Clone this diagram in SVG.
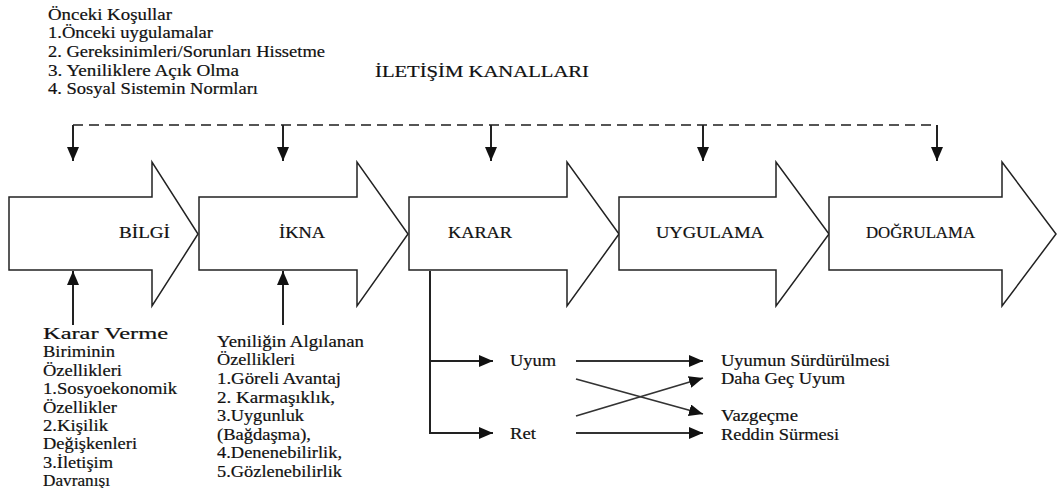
<svg xmlns="http://www.w3.org/2000/svg" width="1057" height="488" viewBox="0 0 1057 488">
  <style>
    .tx { font-family: 'Liberation Serif', 'Times New Roman', serif; font-size: 16.5px; fill: #111; stroke: #111; stroke-width: 0.2; }
    .stage { fill: #fff; stroke: #222; stroke-width: 1.5; stroke-linejoin: miter; }
    .link { fill: none; stroke: #222; stroke-width: 2; }
    .thin { fill: none; stroke: #333; stroke-width: 1.8; }
    .dash { fill: none; stroke: #555; stroke-width: 2; stroke-dasharray: 10 6; }
  </style>
  <defs>
    <marker id="head" viewBox="0 0 14 12" refX="14" refY="6" markerWidth="14" markerHeight="12" markerUnits="userSpaceOnUse" orient="auto">
      <path d="M0,0 L14,6 L0,12 z" fill="#111"/>
    </marker>
  </defs>

  <!-- Prior conditions -->
  <g id="prior-conditions">
    <text class="tx" x="48" y="20" textLength="124" lengthAdjust="spacingAndGlyphs">Önceki Koşullar</text>
    <text class="tx" x="48" y="38" textLength="165" lengthAdjust="spacingAndGlyphs">1.Önceki uygulamalar</text>
    <text class="tx" x="48" y="57" textLength="277" lengthAdjust="spacingAndGlyphs">2. Gereksinimleri/Sorunları Hissetme</text>
    <text class="tx" x="48" y="76" textLength="191" lengthAdjust="spacingAndGlyphs">3. Yeniliklere Açık Olma</text>
    <text class="tx" x="48" y="94" textLength="210" lengthAdjust="spacingAndGlyphs">4. Sosyal Sistemin Normları</text>
  </g>

  <g id="channels-title">
    <text class="tx" x="375" y="77" textLength="214" lengthAdjust="spacingAndGlyphs">İLETİŞİM KANALLARI</text>
  </g>

  <!-- Stage arrows -->
  <g id="stage-bilgi">
    <polygon class="stage" points="9,197 152,197 152,162 198,234 152,306 152,270 9,270"/>
    <text class="tx" x="119" y="238" textLength="51" lengthAdjust="spacingAndGlyphs">BİLGİ</text>
  </g>
  <g id="stage-ikna">
    <polygon class="stage" points="199,197 357,197 357,162 408,234 357,306 357,270 199,270"/>
    <text class="tx" x="279" y="238" textLength="46" lengthAdjust="spacingAndGlyphs">İKNA</text>
  </g>
  <g id="stage-karar">
    <polygon class="stage" points="409,197 567,197 567,162 619,234 567,306 567,270 409,270"/>
    <text class="tx" x="448" y="238" textLength="64" lengthAdjust="spacingAndGlyphs">KARAR</text>
  </g>
  <g id="stage-uygulama">
    <polygon class="stage" points="619,197 776,197 776,162 829,234 776,306 776,270 619,270"/>
    <text class="tx" x="656" y="238" textLength="108" lengthAdjust="spacingAndGlyphs">UYGULAMA</text>
  </g>
  <g id="stage-dogrulama">
    <polygon class="stage" points="829,197 1002,197 1002,162 1056,234 1002,306 1002,270 829,270"/>
    <text class="tx" x="866" y="238" textLength="109" lengthAdjust="spacingAndGlyphs">DOĞRULAMA</text>
  </g>

  <!-- Decision-unit characteristics -->
  <g id="decision-unit">
    <text class="tx" x="43" y="339" textLength="125" lengthAdjust="spacingAndGlyphs">Karar Verme</text>
    <text class="tx" x="43" y="357" textLength="72" lengthAdjust="spacingAndGlyphs">Biriminin</text>
    <text class="tx" x="43" y="376" textLength="79" lengthAdjust="spacingAndGlyphs">Özellikleri</text>
    <text class="tx" x="43" y="394" textLength="134" lengthAdjust="spacingAndGlyphs">1.Sosyoekonomik</text>
    <text class="tx" x="43" y="413" textLength="74" lengthAdjust="spacingAndGlyphs">Özellikler</text>
    <text class="tx" x="43" y="431" textLength="65" lengthAdjust="spacingAndGlyphs">2.Kişilik</text>
    <text class="tx" x="43" y="449" textLength="94" lengthAdjust="spacingAndGlyphs">Değişkenleri</text>
    <text class="tx" x="43" y="468" textLength="70" lengthAdjust="spacingAndGlyphs">3.İletişim</text>
    <text class="tx" x="43" y="486" textLength="67" lengthAdjust="spacingAndGlyphs">Davranışı</text>
  </g>

  <!-- Perceived attributes of the innovation -->
  <g id="innovation-attributes">
    <text class="tx" x="217" y="347" textLength="147" lengthAdjust="spacingAndGlyphs">Yeniliğin Algılanan</text>
    <text class="tx" x="217" y="365" textLength="78" lengthAdjust="spacingAndGlyphs">Özellikleri</text>
    <text class="tx" x="217" y="384" textLength="124" lengthAdjust="spacingAndGlyphs">1.Göreli Avantaj</text>
    <text class="tx" x="217" y="403" textLength="118" lengthAdjust="spacingAndGlyphs">2. Karmaşıklık,</text>
    <text class="tx" x="217" y="421" textLength="87" lengthAdjust="spacingAndGlyphs">3.Uygunluk</text>
    <text class="tx" x="217" y="440" textLength="94" lengthAdjust="spacingAndGlyphs">(Bağdaşma),</text>
    <text class="tx" x="217" y="458" textLength="125" lengthAdjust="spacingAndGlyphs">4.Denenebilirlik,</text>
    <text class="tx" x="217" y="477" textLength="125" lengthAdjust="spacingAndGlyphs">5.Gözlenebilirlik</text>
  </g>

  <!-- Decision outcomes -->
  <g id="outcome-uyum">
    <text class="tx" x="510" y="366" textLength="46" lengthAdjust="spacingAndGlyphs">Uyum</text>
  </g>
  <g id="outcome-ret">
    <text class="tx" x="510" y="439" textLength="26" lengthAdjust="spacingAndGlyphs">Ret</text>
  </g>
  <g id="result-continued-adoption">
    <text class="tx" x="721" y="366" textLength="169" lengthAdjust="spacingAndGlyphs">Uyumun Sürdürülmesi</text>
  </g>
  <g id="result-later-adoption">
    <text class="tx" x="721" y="384" textLength="124" lengthAdjust="spacingAndGlyphs">Daha Geç Uyum</text>
  </g>
  <g id="result-discontinuance">
    <text class="tx" x="721" y="421" textLength="77" lengthAdjust="spacingAndGlyphs">Vazgeçme</text>
  </g>
  <g id="result-continued-rejection">
    <text class="tx" x="721" y="440" textLength="118" lengthAdjust="spacingAndGlyphs">Reddin Sürmesi</text>
  </g>

  <!-- Connectors -->
  <g id="connectors">
    <path class="dash" d="M73,125 H937"/>
    <path class="link" d="M73,125 V161" marker-end="url(#head)"/>
    <path class="link" d="M283,125 V161" marker-end="url(#head)"/>
    <path class="link" d="M491,125 V161" marker-end="url(#head)"/>
    <path class="link" d="M703,125 V161" marker-end="url(#head)"/>
    <path class="link" d="M937,125 V161" marker-end="url(#head)"/>

    <path class="link" d="M73,325 V271" marker-end="url(#head)"/>
    <path class="link" d="M283,325 V271" marker-end="url(#head)"/>

    <path class="link" d="M430,271 V433 H493" marker-end="url(#head)"/>
    <path class="link" d="M430,361 H493" marker-end="url(#head)"/>

    <path class="thin" d="M576,361 H703" marker-end="url(#head)"/>
    <path class="thin" d="M576,379 L703,414" marker-end="url(#head)"/>
    <path class="thin" d="M576,416 L703,378" marker-end="url(#head)"/>
    <path class="thin" d="M576,433 H703" marker-end="url(#head)"/>
  </g>
</svg>
